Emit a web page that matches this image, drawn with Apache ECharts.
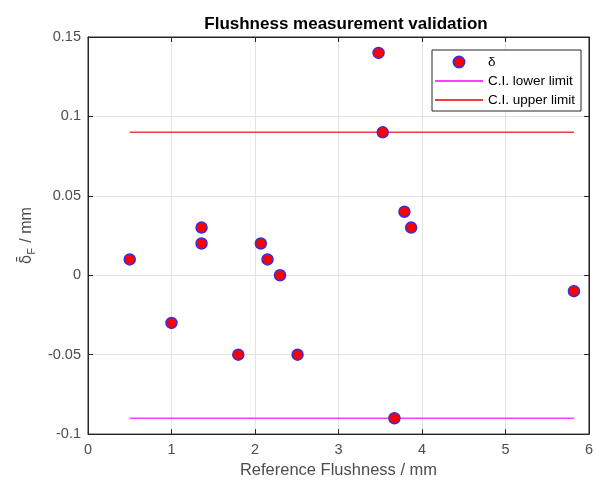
<!DOCTYPE html>
<html style="height: 100%">
<head>
    <meta charset="utf-8">
</head>
<body style="height: 100%; margin: 0">
<div id="container" style="width: 596px; height: 484px"></div>
<script src="https://cdn.jsdelivr.net/npm/echarts@6/dist/echarts.min.js"></script>
<script type="text/javascript">
    // measured points (reference flushness vs. deviation)
    const refFlush = [0.5, 1.0, 1.36, 1.36, 1.8, 2.07, 2.15, 2.3, 2.51, 3.48, 3.53, 3.67, 3.79, 3.87, 5.82];
    const deltaF = [0.01, -0.03, 0.03, 0.02, -0.05, 0.02, 0.01, 0, -0.05, 0.14, 0.09, -0.09, 0.04, 0.03, -0.01];

    // confidence interval limits
    const limitX = [0.5, 5.82];
    const lowerLimit = -0.09;
    const upperLimit = 0.09;

    const xTicks = [0, 1, 2, 3, 4, 5, 6];
    const yTicks = [-0.1, -0.05, 0, 0.05, 0.1, 0.15];

    var dom = document.getElementById("container");
    var myChart = echarts.init(dom);

    const font = 'Liberation Sans, Arial, sans-serif';
    const axisGrey = '#262626';
    const labelGrey = '#4d4d4d';
    const lineIcon = 'path://M0,0H48V2H0Z';

    const points = refFlush.map((x, i) => [x, deltaF[i]]);
    const lowerLine = limitX.map(x => [x, lowerLimit]);
    const upperLine = limitX.map(x => [x, upperLimit]);

    const xBase = {
        type: 'value',
        min: xTicks[0],
        max: xTicks[xTicks.length - 1],
        interval: 1
    };
    const yBase = {
        type: 'value',
        min: yTicks[0],
        max: yTicks[yTicks.length - 1],
        interval: 0.05
    };
    const tickStyle = {show: true, inside: true, length: 5, lineStyle: {color: axisGrey}};
    const lineStyleAxis = {show: true, onZero: false, lineStyle: {color: axisGrey}};

    var option = {
        animation: false,
        backgroundColor: '#ffffff',
        title: {
            text: 'Flushness measurement validation',
            left: 341,
            top: 11,
            textAlign: 'center',
            textStyle: {fontFamily: font, fontSize: 17, fontWeight: 'bold', color: '#000'}
        },
        legend: {
            orient: 'vertical',
            left: 432,
            top: 50,
            padding: [5, 6, 4, 3],
            itemGap: 5,
            itemWidth: 48,
            itemHeight: 11,
            borderColor: axisGrey,
            borderWidth: 1,
            backgroundColor: '#ffffff',
            textStyle: {fontFamily: font, fontSize: 13.5, color: '#000'},
            data: [
                {name: 'δ', icon: 'circle'},
                {name: 'C.I. lower limit', icon: lineIcon},
                {name: 'C.I. upper limit', icon: lineIcon}
            ]
        },
        grid: {
            left: 88,
            right: 2,
            top: 37,
            bottom: 47,
            show: true,
            borderColor: axisGrey,
            borderWidth: 1
        },
        xAxis: [
            Object.assign({}, xBase, {
                position: 'bottom',
                name: 'Reference Flushness / mm',
                nameLocation: 'middle',
                nameGap: 23,
                nameTextStyle: {fontFamily: font, fontSize: 16.5, color: labelGrey},
                axisLine: lineStyleAxis,
                axisTick: tickStyle,
                axisLabel: {fontFamily: font, fontSize: 14.5, color: labelGrey, margin: 8},
                splitLine: {show: true, lineStyle: {color: '#e3e3e3'}}
            }),
            Object.assign({}, xBase, {
                position: 'top',
                axisLine: lineStyleAxis,
                axisTick: tickStyle,
                axisLabel: {show: false},
                splitLine: {show: false}
            })
        ],
        yAxis: [
            Object.assign({}, yBase, {
                position: 'left',
                name: '{d|δ\u0304}{s|F}{a| / mm}',
                nameLocation: 'middle',
                nameGap: 47,
                nameTextStyle: {
                    fontFamily: font,
                    color: labelGrey,
                    rich: {
                        d: {fontFamily: 'DejaVu Sans', fontSize: 15, color: labelGrey, lineHeight: 20},
                        a: {fontFamily: font, fontSize: 16, color: labelGrey, lineHeight: 20},
                        s: {fontFamily: font, fontSize: 11, color: labelGrey, lineHeight: 20, verticalAlign: 'bottom', padding: [6, 1, 0, 0]}
                    }
                },
                axisLine: lineStyleAxis,
                axisTick: tickStyle,
                axisLabel: {fontFamily: font, fontSize: 14.5, color: labelGrey, margin: 7},
                splitLine: {show: true, lineStyle: {color: '#e3e3e3'}}
            }),
            Object.assign({}, yBase, {
                position: 'right',
                axisLine: lineStyleAxis,
                axisTick: tickStyle,
                axisLabel: {show: false},
                splitLine: {show: false}
            })
        ],
        series: [
            {
                name: 'δ',
                type: 'scatter',
                data: points,
                symbolSize: 11,
                z: 5,
                itemStyle: {color: '#ff0000', borderColor: '#3b2fd6', borderWidth: 1.5, opacity: 1}
            },
            {
                name: 'C.I. lower limit',
                type: 'line',
                data: lowerLine,
                symbol: 'none',
                z: 3,
                lineStyle: {color: '#ff3cff', width: 1.6},
                itemStyle: {color: '#ff3cff'}
            },
            {
                name: 'C.I. upper limit',
                type: 'line',
                data: upperLine,
                symbol: 'none',
                z: 3,
                lineStyle: {color: '#f03c3c', width: 1.6},
                itemStyle: {color: '#f03c3c'}
            }
        ]
    };

    if (option && typeof option === 'object') {
        myChart.setOption(option);
    }
</script>
</body>
</html>
